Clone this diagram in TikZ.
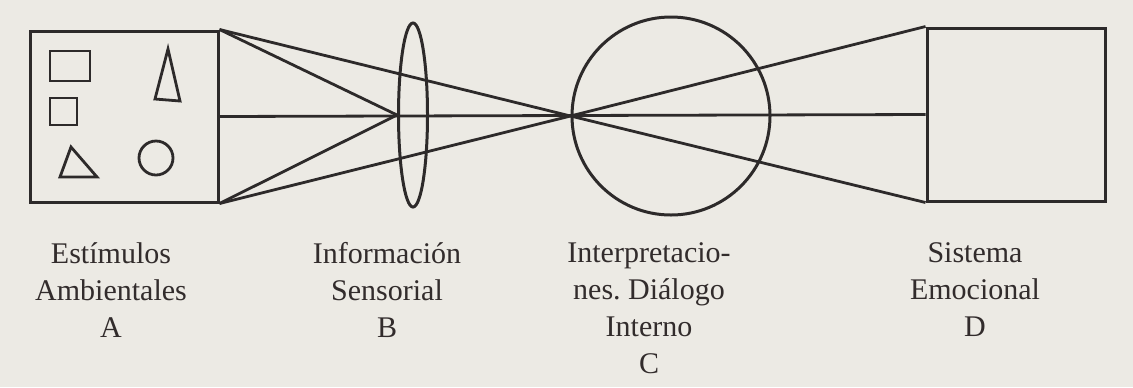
\documentclass[tikz,border=0pt]{standalone}
\usepackage{fontspec}
\setmainfont{Liberation Serif}
\usetikzlibrary{shapes.geometric}
\definecolor{paper}{RGB}{236,234,228}
\definecolor{ink}{RGB}{45,42,42}
\definecolor{txt}{RGB}{50,44,44}
\tikzset{
  part/.style={draw=ink, line width=1.5pt, inner sep=0pt},
  ray/.style={draw=ink, line width=1.4pt},
  lbl/.style={text=txt, align=center, font=\fontsize{15}{18.5}\selectfont, inner sep=0pt}
}
\begin{document}
\begin{tikzpicture}[x=0.5pt, y=-0.5pt]
            \fill[paper] (0,0) rectangle (1133,387);
            \node[part, rectangle, minimum width=94pt, minimum height=85.5pt] (A) at (124,116.5) {};
            \node[part, ellipse, minimum width=14.5pt, minimum height=92pt] (B) at (413,115) {};
            \node[part, circle, minimum size=99pt] (C) at (671,116) {};
            \node[part, rectangle, minimum width=89pt, minimum height=86.5pt] (D) at (1016,114.5) {};
            \draw[ray] (50,51) rectangle (90,81);
            \draw[ray] (50,98) rectangle (77,125);
            \draw[ray] (168,49) -- (180,101) -- (155,99) -- cycle;
            \draw[ray] (71,147) -- (97,177) -- (60,177) -- cycle;
            \draw[ray] (156,158) circle[radius=8.5pt];
            \draw[ray] (A.north east) to (B.west);
            \draw[ray] (A.south east) to (B.west);
            \draw[ray] (A.north east) to (C.west);
            \draw[ray] (A.south east) to (C.west);
            \draw[ray] (A.east) to (D.west);
            \draw[ray] (C.west) to (D.north west);
            \draw[ray] (C.west) to (D.south west);
            \node[lbl, anchor=north] (la) at (111,242) {Estímulos\\Ambientales\\A};
            \node[lbl, anchor=north] (lb) at (387,242) {Información\\Sensorial\\B};
            \node[lbl, anchor=north] (lc) at (649,242) {Interpretacio-\\nes.\ Diálogo\\Interno\\C};
            \node[lbl, anchor=north] (ld) at (975,242) {Sistema\\Emocional\\D};
        \end{tikzpicture}
\end{document}
